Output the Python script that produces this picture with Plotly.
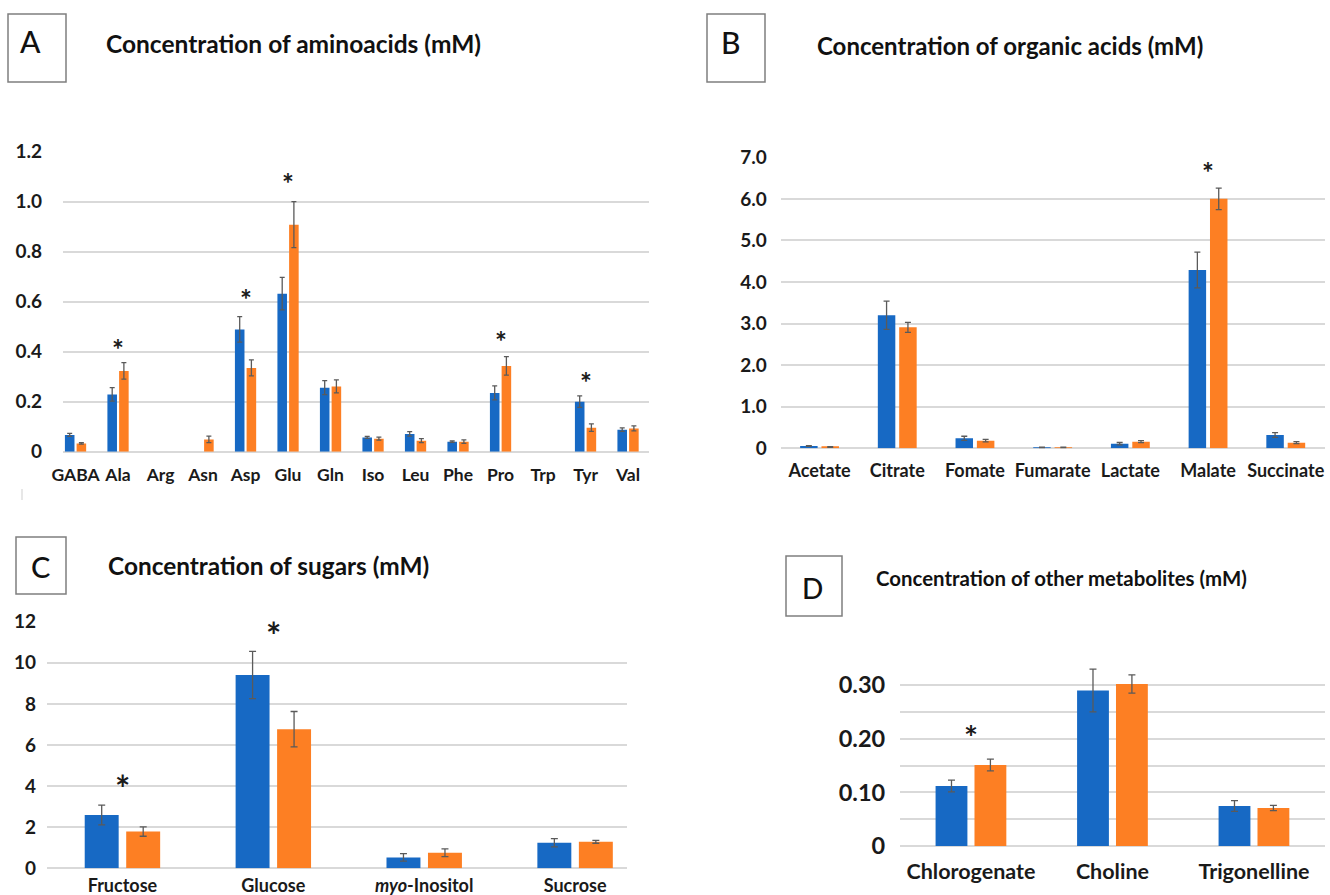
import plotly.graph_objects as go

W, H = 1330, 895
BLUE = "#1769C4"
ORANGE = "#FD7F23"
GRID = "#d9d9d9"
ERRC = "#5a5a5a"
FONT = "Lato"

# ---------------- data ----------------
aa_cats = ["GABA", "Ala", "Arg", "Asn", "Asp", "Glu", "Gln", "Iso", "Leu", "Phe", "Pro", "Trp", "Tyr", "Val"]
aa_blue = [0.067, 0.229, None, None, 0.489, 0.632, 0.256, 0.057, 0.071, 0.040, 0.235, None, 0.200, 0.088]
aa_blue_err = [0.006, 0.027, None, None, 0.051, 0.065, 0.028, 0.004, 0.009, 0.003, 0.028, None, 0.023, 0.007]
aa_orange = [0.033, 0.323, None, 0.049, 0.335, 0.908, 0.261, 0.052, 0.044, 0.040, 0.343, None, 0.096, 0.093]
aa_orange_err = [0.003, 0.033, None, 0.013, 0.032, 0.092, 0.026, 0.006, 0.008, 0.007, 0.037, None, 0.015, 0.010]
aa_star_cats = ["Ala", "Asp", "Glu", "Pro", "Tyr"]
aa_star_y = [0.434, 0.634, 1.10, 0.467, 0.303]
aa_yticks = [0, 0.2, 0.4, 0.6, 0.8, 1.0, 1.2]
aa_yticktext = ["0", "0.2", "0.4", "0.6", "0.8", "1.0", "1.2"]

oa_cats = ["Acetate", "Citrate", "Fomate", "Fumarate", "Lactate", "Malate", "Succinate"]
oa_blue = [0.056, 3.20, 0.24, 0.015, 0.11, 4.29, 0.32]
oa_blue_err = [0.01, 0.34, 0.05, 0.01, 0.03, 0.43, 0.055]
oa_orange = [0.030, 2.91, 0.184, 0.015, 0.16, 6.00, 0.136]
oa_orange_err = [0.01, 0.12, 0.03, 0.01, 0.025, 0.26, 0.025]
oa_star_cats = ["Malate"]
oa_star_y = [6.79]
oa_yticks = [0, 1, 2, 3, 4, 5, 6, 7]
oa_yticktext = ["0", "1.0", "2.0", "3.0", "4.0", "5.0", "6.0", "7.0"]

su_cats = ["Fructose", "Glucose", "<i>myo</i>-Inositol", "Sucrose"]
su_blue = [2.59, 9.41, 0.53, 1.24]
su_blue_err = [0.48, 1.15, 0.18, 0.20]
su_orange = [1.79, 6.77, 0.76, 1.29]
su_orange_err = [0.23, 0.86, 0.19, 0.07]
su_star_cats = ["Fructose", "Glucose"]
su_star_y = [4.3, 11.73]
su_yticks = [0, 2, 4, 6, 8, 10, 12]
su_yticktext = ["0", "2", "4", "6", "8", "10", "12"]

ot_cats = ["Chlorogenate", "Choline", "Trigonelline"]
ot_blue = [0.112, 0.290, 0.0746]
ot_blue_err = [0.011, 0.040, 0.010]
ot_orange = [0.151, 0.302, 0.0709]
ot_orange_err = [0.011, 0.017, 0.005]
ot_star_cats = ["Chlorogenate"]
ot_star_y = [0.216]
ot_yticks = [0, 0.05, 0.10, 0.15, 0.20, 0.25, 0.30, 0.35]
ot_yticktext = ["0", "", "0.10", "", "0.20", "", "0.30", ""]


def px(x):
    return x / W


def py(y):
    return 1 - y / H


fig = go.Figure()

panels = [
    dict(cats=aa_cats, b=aa_blue, be=aa_blue_err, o=aa_orange, oe=aa_orange_err, ax="", xd=(63, 649.3),
         yd=(451.7, 151.7), xr=[-0.295, 13.5], yr=[0, 1.2], tv=aa_yticks, tt=aa_yticktext,
         sc=aa_star_cats, sy=aa_star_y, ssize=28, xfs=17.5, yfs=19, ystand=20, xstand=11, cap=2.5),
    dict(cats=oa_cats, b=oa_blue, be=oa_blue_err, o=oa_orange, oe=oa_orange_err, ax="2", xd=(780.7, 1324.6),
         yd=(448.3, 157.3), xr=[-0.5, 6.5], yr=[0, 7], tv=oa_yticks, tt=oa_yticktext,
         sc=oa_star_cats, sy=oa_star_y, ssize=28, xfs=18, yfs=19, ystand=13, xstand=10, cap=3),
    dict(cats=su_cats, b=su_blue, be=su_blue_err, o=su_orange, oe=su_orange_err, ax="3", xd=(47, 627),
         yd=(868.3, 621.7), xr=[-0.5, 3.344], yr=[0, 12], tv=su_yticks, tt=su_yticktext,
         sc=su_star_cats, sy=su_star_y, ssize=36, xfs=18, yfs=19, ystand=10, xstand=5, cap=3.5),
    dict(cats=ot_cats, b=ot_blue, be=ot_blue_err, o=ot_orange, oe=ot_orange_err, ax="4", xd=(900.2, 1324.7),
         yd=(846, 658.3), xr=[-0.5, 2.5], yr=[0, 0.35], tv=ot_yticks, tt=ot_yticktext,
         sc=ot_star_cats, sy=ot_star_y, ssize=33, xfs=21.5, yfs=23.5, ystand=14, xstand=10, cap=3.5),
]

annotations = []
layout_axes = {}
for p in panels:
    xa = "x" + p["ax"]
    ya = "y" + p["ax"]
    for vals, errs, col, off in ((p["b"], p["be"], BLUE, -0.25), (p["o"], p["oe"], ORANGE, 0.025)):
        fig.add_trace(go.Bar(
            x=p["cats"], y=vals, xaxis=xa, yaxis=ya,
            marker=dict(color=col, line=dict(width=0)),
            width=0.225, offset=off,
            error_y=dict(type="data", array=errs, visible=True, color=ERRC, thickness=1.3, width=p["cap"]),
            showlegend=False, hoverinfo="skip",
        ))
    xname = "xaxis" + p["ax"]
    yname = "yaxis" + p["ax"]
    layout_axes[xname] = dict(
        domain=[px(p["xd"][0]), px(p["xd"][1])], anchor=ya, range=p["xr"],
        type="category", showgrid=False, zeroline=False, showline=False, ticks="",
        tickfont=dict(family=FONT, size=p["xfs"], color="#1a1a1a", weight="bold"),
        ticklabelstandoff=p["xstand"], fixedrange=True,
    )
    layout_axes[yname] = dict(
        domain=[py(p["yd"][0]), py(p["yd"][1])], anchor=xa, range=p["yr"],
        tickvals=p["tv"], ticktext=p["tt"], showgrid=True, gridcolor=GRID, gridwidth=1.5,
        zeroline=True, zerolinecolor=GRID, zerolinewidth=1.5, showline=False, ticks="",
        tickfont=dict(family=FONT, size=p["yfs"], color="#1a1a1a", weight="bold"),
        ticklabelstandoff=p["ystand"], fixedrange=True,
    )
    for c, yv in zip(p["sc"], p["sy"]):
        annotations.append(dict(
            x=c, y=yv, xref=xa, yref=ya, text="*", showarrow=False,
            font=dict(family=FONT, size=p["ssize"], color="#1a1a1a", weight="bold"),
            xanchor="center", yanchor="middle", yshift=-p["ssize"] * 0.22,
        ))

# panel boxes and titles
boxes = [
    dict(x0=8, x1=66, y0=14, y1=82, letter="A", lx=18, ly=41, anchor="left", fs=30),
    dict(x0=707, x1=765, y0=14, y1=82, letter="B", lx=719, ly=42.5, anchor="left", fs=30),
    dict(x0=16, x1=66, y0=537, y1=594, letter="C", lx=40, ly=566, anchor="center", fs=29),
    dict(x0=786, x1=842, y0=556, y1=616, letter="D", lx=813, ly=588, anchor="center", fs=28),
]
shapes = []
for b in boxes:
    shapes.append(dict(type="rect", xref="paper", yref="paper",
                       x0=px(b["x0"]), x1=px(b["x1"]), y0=py(b["y1"]), y1=py(b["y0"]),
                       line=dict(color="#7f7f7f", width=1.5), fillcolor="rgba(0,0,0,0)"))
    annotations.append(dict(x=px(b["lx"]), y=py(b["ly"]), xref="paper", yref="paper",
                            text=b["letter"], showarrow=False, xanchor=b["anchor"], yanchor="middle",
                            font=dict(family=FONT, size=b["fs"], color="#111111", weight=500)))

# small stray tick mark below panel A (present in the original figure)
shapes.append(dict(type="line", xref="paper", yref="paper", x0=px(22), x1=px(22), y0=py(500), y1=py(489),
                   line=dict(color="#cfcfcf", width=1)))

titles = [
    ("Concentration of aminoacids (mM)", 104, 43, 24.5),
    ("Concentration of organic acids (mM)", 815, 45, 24),
    ("Concentration of sugars (mM)", 106, 565, 24.4),
    ("Concentration of other metabolites (mM)", 874, 578, 20.4),
]
for t, x, y, fs in titles:
    annotations.append(dict(x=px(x), y=py(y), xref="paper", yref="paper", text=t, showarrow=False,
                            xanchor="left", yanchor="middle",
                            font=dict(family=FONT, size=fs, color="#111111", weight="bold")))

fig.update_layout(
    width=W, height=H, margin=dict(l=0, r=0, t=0, b=0, autoexpand=False),
    paper_bgcolor="white", plot_bgcolor="white", barmode="group",
    showlegend=False, annotations=annotations, shapes=shapes,
    font=dict(family=FONT),
    **layout_axes,
)

fig.write_html(
    "out.html",
    config={"displayModeBar": False},
    post_script="document.body.style.margin='0px';document.body.style.overflow='hidden';",
)
